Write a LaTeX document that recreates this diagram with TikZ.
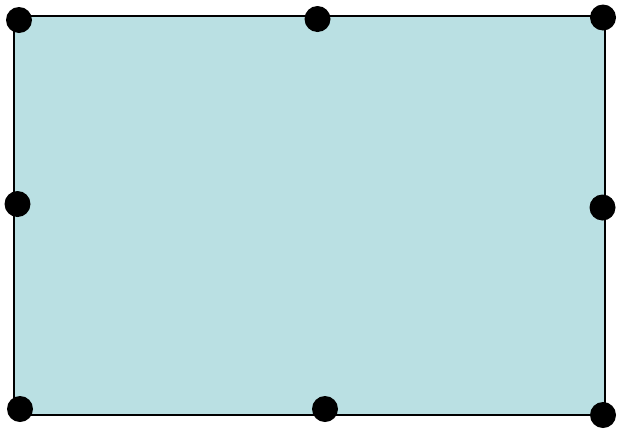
\documentclass[tikz,border=0pt]{standalone}
\definecolor{boxfill}{RGB}{186,224,227}
\begin{document}
\begin{tikzpicture}[x=1pt,y=-1pt,
  dot/.style={circle,fill=black,draw=none,minimum size=26pt,inner sep=0pt},
  frame/.style={draw=black,line width=2pt,fill=boxfill}]
\useasboundingbox (0,0) rectangle (619,429);
\draw[frame] (14,15.5) rectangle (605,414.5);
\node[dot] (tl) at (19,20) {};
\node[dot] (tm) at (317.5,19) {};
\node[dot] (tr) at (603,17.5) {};
\node[dot] (ml) at (17.5,204) {};
\node[dot] (mr) at (602.5,207.5) {};
\node[dot] (bl) at (20,409) {};
\node[dot] (bm) at (325,409) {};
\node[dot] (br) at (603,415) {};
\end{tikzpicture}
\end{document}
